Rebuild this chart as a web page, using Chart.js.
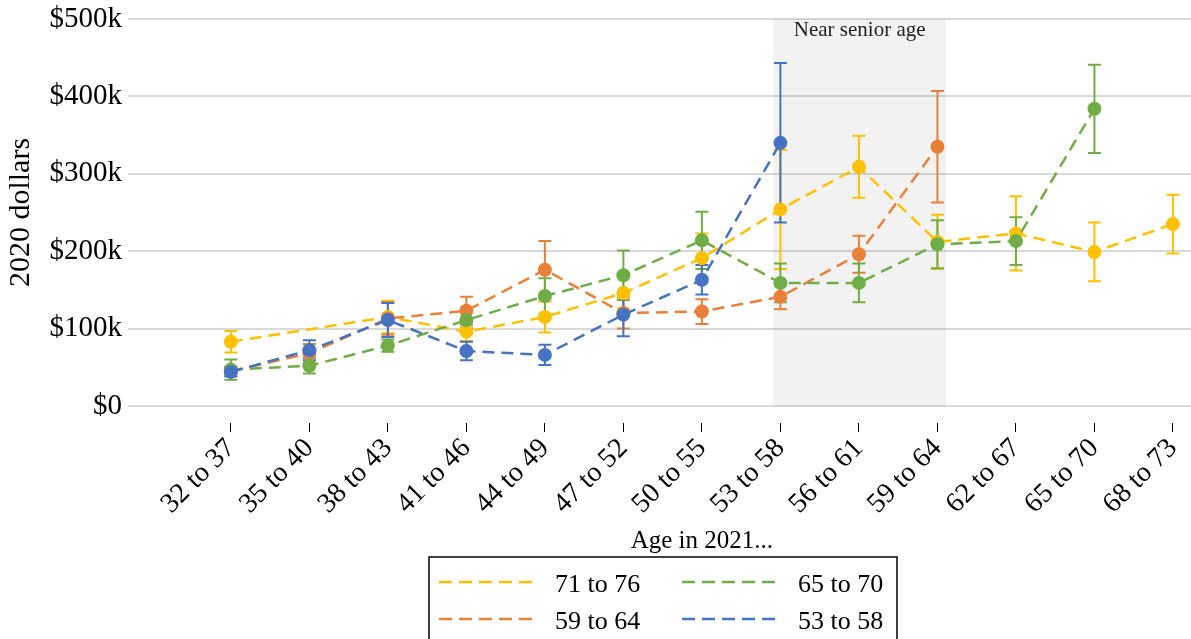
<!DOCTYPE html>
<html>
<head>
<meta charset="utf-8">
<script src="https://cdn.jsdelivr.net/npm/chart.js@4.4.1/dist/chart.umd.min.js"></script>
<style>
  html, body { margin: 0; padding: 0; background: #fff; }
  #wrap { width: 1191px; height: 639px; }
</style>
</head>
<body>
<div id="wrap"><canvas id="chart" width="1191" height="639"></canvas></div>
<script>
// age groups on the x axis
var categories = ['32 to 37', '35 to 40', '38 to 43', '41 to 46', '44 to 49', '47 to 52', '50 to 55',
  '53 to 58', '56 to 61', '59 to 64', '62 to 67', '65 to 70', '68 to 73'];

// values in thousands of 2020 dollars, with +/- error
var age7176 = [83, null, 115, 96, 115, 146, 191, 254, 309, 212, 223, 199, 235];
var err7176 = [14, null, 21, 12, 20, 20, 32, 77, 40, 35, 48, 38, 38];
var age5964 = [45, 68, 113, 123, 176, 120, 122, 141, 196, 335];
var err5964 = [6, 12, 21, 18, 37, 20, 16, 16, 24, 72];
var age6570 = [47, 52, 78, 111, 142, 169, 214, 159, 159, 209, 213, 384];
var err6570 = [13, 10, 8, 10, 23, 32, 37, 25, 25, 31, 31, 57];
var age5358 = [44, 72, 111, 71, 66, 118, 163, 340];
var err5358 = [6, 13, 22, 12, 13, 28, 19, 103];

var seriesNames = ['71 to 76', '59 to 64', '65 to 70', '53 to 58'];
var yTicks = [0, 100, 200, 300, 400, 500];

var shadeFrom = '53 to 58';
var shadeTo = '59 to 64';
var shadeLabel = 'Near senior age';
var xTitle = 'Age in 2021...';
var yTitle = '2020 dollars';

var colors = ['#FFC000', '#E8803A', '#70AD47', '#4672C2'];
var drawOrder = [3, 2, 1, 0];
var serif = '"Liberation Serif", "Times New Roman", serif';

var allValues = [age7176, age5964, age6570, age5358];
var allErrors = [err7176, err5964, err6570, err5358];

function toPoints(vals) {
  return vals.map(function (v, i) { return { x: i, y: v }; });
}

var datasets = seriesNames.map(function (name, k) {
  return {
    label: name,
    data: toPoints(allValues[k]),
    errors: allErrors[k],
    borderColor: colors[k],
    backgroundColor: colors[k],
    pointBackgroundColor: colors[k],
    pointBorderWidth: 0,
    pointRadius: 7,
    pointHoverRadius: 7,
    borderWidth: 2.5,
    borderDash: [12, 7],
    tension: 0,
    spanGaps: true,
    order: drawOrder[k]
  };
});

var extras = {
  id: 'extras',
  beforeDatasetsDraw: function (chart) {
    var ctx = chart.ctx, x = chart.scales.x, y = chart.scales.y;
    var i0 = categories.indexOf(shadeFrom), i1 = categories.indexOf(shadeTo);
    var left = x.getPixelForValue(i0 - 0.09), right = x.getPixelForValue(i1 + 0.11);
    var top = y.getPixelForValue(yTicks[yTicks.length - 1]), bottom = y.getPixelForValue(0);
    ctx.save();
    ctx.fillStyle = 'rgba(0,0,0,0.05)';
    ctx.fillRect(left, top, right - left, bottom - top);
    ctx.fillStyle = '#222';
    ctx.font = '21px ' + serif;
    ctx.textAlign = 'center';
    ctx.textBaseline = 'middle';
    ctx.fillText(shadeLabel, (left + right) / 2, top + 11);

    // error bars, under the lines and points
    ctx.lineWidth = 2;
    chart.data.datasets.forEach(function (ds) {
      ctx.strokeStyle = ds.borderColor;
      ds.data.forEach(function (p, i) {
        var e = ds.errors[i];
        if (p.y == null || e == null) return;
        var px = x.getPixelForValue(p.x);
        var hi = y.getPixelForValue(p.y + e), lo = y.getPixelForValue(p.y - e);
        ctx.beginPath();
        ctx.moveTo(px, hi); ctx.lineTo(px, lo);
        ctx.moveTo(px - 6.5, hi); ctx.lineTo(px + 6.5, hi);
        ctx.moveTo(px - 6.5, lo); ctx.lineTo(px + 6.5, lo);
        ctx.stroke();
      });
    });
    ctx.restore();
  },
  afterDraw: function (chart) {
    var ctx = chart.ctx, x = chart.scales.x, y = chart.scales.y;
    ctx.save();
    ctx.fillStyle = '#000';
    ctx.textBaseline = 'middle';

    // y title
    ctx.save();
    ctx.font = '30px ' + serif;
    ctx.textAlign = 'center';
    ctx.translate(21, y.getPixelForValue(250));
    ctx.rotate(-Math.PI / 2);
    ctx.fillText(yTitle, 0, 0);
    ctx.restore();

    // x title, centred on the categories
    ctx.font = '25px ' + serif;
    ctx.textAlign = 'center';
    ctx.fillText(xTitle, x.getPixelForValue((categories.length - 1) / 2), 541);

    // legend box, two columns
    ctx.strokeStyle = '#000';
    ctx.lineWidth = 1.5;
    ctx.strokeRect(429, 557, 468, 100);
    var colX = [439, 682], rowY = [582, 619];
    ctx.font = '26px ' + serif;
    ctx.textAlign = 'left';
    chart.data.datasets.forEach(function (ds, k) {
      var cx = colX[Math.floor(k / 2)], cy = rowY[k % 2];
      ctx.strokeStyle = ds.borderColor;
      ctx.lineWidth = 2.5;
      ctx.setLineDash([13, 7]);
      ctx.beginPath();
      ctx.moveTo(cx, cy); ctx.lineTo(cx + 100, cy);
      ctx.stroke();
      ctx.setLineDash([]);
      ctx.fillText(ds.label, cx + 116, cy + 3);
    });
    ctx.restore();
  }
};

var ctx = document.getElementById('chart').getContext('2d');
var chart = new Chart(ctx, {
  type: 'line',
  data: { datasets: datasets },
  plugins: [extras],
  options: {
    responsive: false,
    animation: false,
    devicePixelRatio: 1,
    layout: { autoPadding: false, padding: { top: 19, left: 0, right: 0, bottom: 0 } },
    plugins: { legend: { display: false }, tooltip: { enabled: false } },
    scales: {
      x: {
        type: 'linear',
        min: -1.31,
        max: 12.23,
        afterBuildTicks: function (s) {
          s.ticks = categories.map(function (c, i) { return { value: i }; });
        },
        afterFit: function (s) {
          s.height = 216;
          s.paddingLeft = 0;
          s.paddingRight = 0;
        },
        grid: { drawOnChartArea: false, drawTicks: true, tickLength: 9, color: '#000', lineWidth: 1 },
        border: { display: false },
        ticks: {
          autoSkip: false,
          minRotation: 45,
          maxRotation: 45,
          padding: 0,
          color: '#000',
          font: { family: serif, size: 28 },
          callback: function (v) { return categories[Math.round(v)]; }
        }
      },
      y: {
        min: -22,
        max: 500,
        afterBuildTicks: function (s) {
          s.ticks = yTicks.map(function (v) { return { value: v }; });
        },
        afterFit: function (s) {
          s.width = 128;
          s.paddingTop = 0;
          s.paddingBottom = 0;
        },
        grid: { color: '#D9D9D9', lineWidth: 2, drawTicks: false },
        border: { display: false },
        ticks: {
          padding: 6,
          color: '#000',
          font: { family: serif, size: 29 },
          callback: function (v) { return v === 0 ? '$0' : '$' + v + 'k'; }
        }
      }
    }
  }
});
</script>
</body>
</html>
